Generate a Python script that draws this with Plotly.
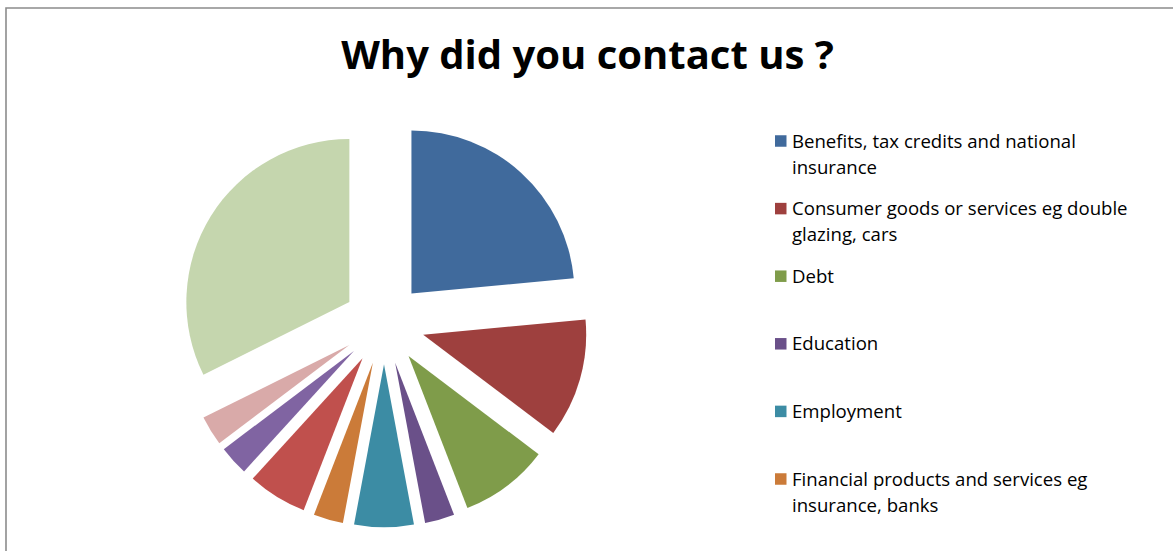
import plotly.graph_objects as go

# Survey answers: reasons for contacting the service
categories = [
    "Benefits, tax credits and national insurance",
    "Consumer goods or services eg double glazing, cars",
    "Debt",
    "Education",
    "Employment",
    "Financial products and services eg insurance, banks",
    "Health and community care",
    "Housing",
    "Legal",
    "Other",
]
# wrapped key text for the categories that fit in the key box
key_lines = [
    ["Benefits, tax credits and national", "insurance"],
    ["Consumer goods or services eg double", "glazing, cars"],
    ["Debt"],
    ["Education"],
    ["Employment"],
    ["Financial products and services eg", "insurance, banks"],
]
responses = [8, 4, 3, 1, 2, 1, 2, 1, 1, 11]

colors = [
    "#406A9C", "#9E403E", "#7F9C4A", "#6A5089", "#3C8CA4",
    "#CB7B39", "#C0504D", "#8064A2", "#D9AAA9", "#C5D6AE",
]

FONT = "Open Sans"
W, H = 1173, 551


def px(x):
    return x / W


def py(y):
    return 1 - y / H


cx, cy, r, pull = 384, 323.5, 163, 0.25
half = r * (1 + pull)

fig = go.Figure(
    go.Pie(
        labels=categories,
        values=responses,
        sort=False,
        direction="clockwise",
        rotation=0,
        pull=pull,
        textinfo="none",
        hoverinfo="label+value+percent",
        showlegend=False,
        marker=dict(colors=colors, line=dict(width=0)),
        domain=dict(x=[px(cx - half), px(cx + half)], y=[py(cy + half), py(cy - half)]),
    )
)

# key: colour square plus wrapped text for each visible category
key_top, key_pitch, line_pitch = 141, 67.6, 26
sq = 11.5
annotations, shapes = [], []
for i, lines in enumerate(key_lines):
    y0 = key_top + i * key_pitch
    shapes.append(dict(
        type="rect", xref="paper", yref="paper",
        x0=px(775), x1=px(775 + sq), y0=py(y0 + sq / 2), y1=py(y0 - sq / 2),
        fillcolor=colors[i], line=dict(width=0),
    ))
    for j, text in enumerate(lines):
        annotations.append(dict(
            text=text, xref="paper", yref="paper",
            x=px(789.5), y=py(y0 - 1 + j * line_pitch),
            xanchor="left", yanchor="middle", showarrow=False,
            font=dict(family=FONT, size=18.6, color="black"),
        ))

# chart frame
shapes.append(dict(
    type="rect", xref="paper", yref="paper",
    x0=px(6), x1=1.2, y0=-0.2, y1=py(8),
    line=dict(color="#8C8C8C", width=1.6),
    fillcolor="rgba(0,0,0,0)", layer="above",
))

fig.update_layout(
    width=W,
    height=H,
    margin=dict(l=0, r=0, t=0, b=0, autoexpand=False),
    paper_bgcolor="white",
    plot_bgcolor="white",
    title=dict(
        text="<b>Why did you contact us ?</b>",
        x=px(587.5),
        xanchor="center",
        y=py(55),
        yanchor="middle",
        font=dict(family=FONT, size=40, color="black"),
    ),
    annotations=annotations,
    shapes=shapes,
)

fig.write_html("out.html")
